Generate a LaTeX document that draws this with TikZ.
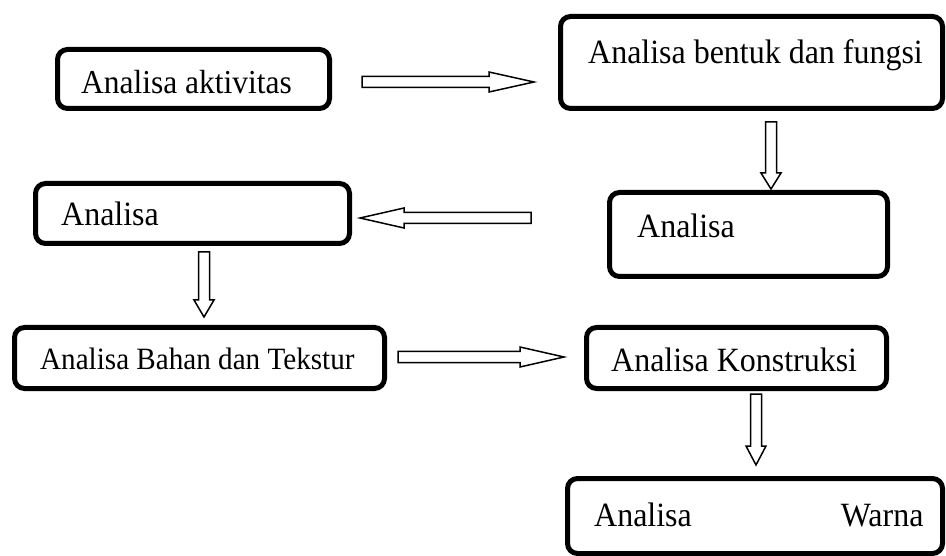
\documentclass[tikz,border=0pt]{standalone}
\usepackage{fontspec}
\setmainfont{Liberation Serif}[FakeStretch=0.94]
\usetikzlibrary{calc}

\tikzset{
  box/.style={draw, line width=5pt, rounded corners=10pt, inner sep=0pt},
  label32/.style={anchor=base west, inner sep=0pt, font=\fontsize{34}{40}\selectfont},
  arrowline/.style={draw, line width=1.5pt, line join=miter, fill=white}
}
% hollow block arrow: tail, tip, head length
\newcommand{\hollowarrow}[3]{%
  \coordinate (neck) at ($(#2)!#3!(#1)$);
  \draw[arrowline] ($(#1)!5.5pt!90:(#2)$) -- ($(neck)!5.5pt!90:(#2)$) -- ($(neck)!10pt!90:(#2)$) -- (#2)
    -- ($(neck)!10pt!-90:(#2)$) -- ($(neck)!5.5pt!-90:(#2)$) -- ($(#1)!5.5pt!-90:(#2)$) -- cycle;
}

\begin{document}
\begin{tikzpicture}[x=1pt, y=-1pt]
    \useasboundingbox (0,0) rectangle (946,556);
    % Boxes
    \node[box, minimum width=272pt, minimum height=59pt] (aktivitas) at (193.5,79) {};
    \node[box, minimum width=382pt, minimum height=92pt] (bentuk) at (751.5,62.5) {};
    \node[box, minimum width=278pt, minimum height=84pt] (analisakanan) at (748.5,234.5) {};
    \node[box, minimum width=314pt, minimum height=60pt] (analisakiri) at (192.5,213.5) {};
    \node[box, minimum width=370pt, minimum height=61pt] (bahan) at (199.5,358) {};
    \node[box, minimum width=300pt, minimum height=61pt] (konstruksi) at (736.5,358) {};
    \node[box, minimum width=375pt, minimum height=75pt] (warna) at (755,516) {};
    % Texts
    \node[label32, font=\fontsize{33.5}{40}\selectfont] (t-aktivitas) at (81,94) {Analisa aktivitas};
    \node[label32] (t-bentuk) at (588,63.5) {Analisa bentuk dan fungsi};
    \node[label32] (t-analisakanan) at (637,238) {Analisa};
    \node[label32] (t-analisakiri) at (61,226) {Analisa};
    \node[label32, font=\fontsize{31}{37}\selectfont] (t-bahan) at (40,370) {Analisa Bahan dan Tekstur};
    \node[label32] (t-konstruksi) at (611,371) {Analisa Konstruksi};
    \node[label32] (t-warna) at (594,526) {Analisa\hspace{149pt}Warna};
    % Arrows
    \coordinate (a1s) at (362,82);  \coordinate (a1e) at (534,82);
    \coordinate (a2s) at (771,122); \coordinate (a2e) at (771,189);
    \coordinate (a3s) at (531,218); \coordinate (a3e) at (360,218);
    \coordinate (a4s) at (204,252); \coordinate (a4e) at (204,317);
    \coordinate (a5s) at (398,357); \coordinate (a5e) at (564,357);
    \coordinate (a6s) at (756,394); \coordinate (a6e) at (756,465);
    \hollowarrow{a1s}{a1e}{45pt}
    \hollowarrow{a2s}{a2e}{16pt}
    \hollowarrow{a3s}{a3e}{44pt}
    \hollowarrow{a4s}{a4e}{17pt}
    \hollowarrow{a5s}{a5e}{44pt}
    \hollowarrow{a6s}{a6e}{19pt}
\end{tikzpicture}
\end{document}
